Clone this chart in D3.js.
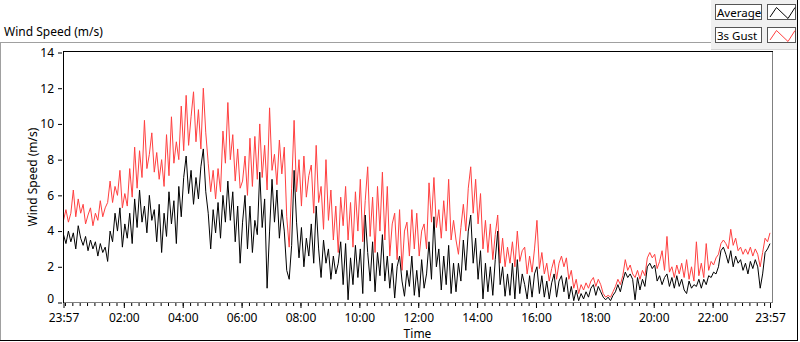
<!DOCTYPE html>
<html>
<head>
<meta charset="utf-8">
<script src="https://d3js.org/d3.v7.min.js"></script>
<style>
  body { margin: 0; background: #fff; }
  svg { display: block; font-family: "Noto Sans", sans-serif; font-size: 12px; }
</style>
</head>
<body>
<svg id="chart" width="800" height="342"></svg>
<script>
// one reading every 5 minutes, from 23:57 to 23:57 the next day
const startTime = new Date(2024, 0, 1, 23, 57);
const endTime = new Date(2024, 0, 2, 23, 57);
const sampleMinutes = 5;

const gustSpeed = [
  4.6,5.2,4.5,5.0,6.3,4.8,5.8,5.0,5.5,4.4,
  4.9,5.3,4.3,5.0,4.6,5.7,4.8,5.3,5.6,6.8,
  5.6,6.5,6.0,7.4,5.3,6.1,5.4,7.5,5.9,8.7,
  6.4,8.5,7.0,10.2,7.5,8.3,9.5,7.3,8.4,6.9,
  8.0,6.5,9.4,7.1,10.4,7.8,9.0,8.0,11.0,8.5,
  11.6,8.8,10.4,11.8,9.0,10.8,8.6,12.0,9.5,7.8,
  6.2,7.4,5.8,7.5,6.2,9.6,7.8,11.2,8.0,9.4,
  6.8,8.6,6.4,
  6.8,8.2,6.0,9.2,6.5,9.3,6.9,
  10.0,7.0,8.8,6.3,10.9,7.4,8.3,6.6,9.1,7.2,
  8.7,4.8,3.1,6.4,10.2,6.2,8.0,5.4,8.2,5.9,
  7.1,7.7,5.0,8.8,5.6,6.5,4.1,8.0,4.6,6.3,
  3.5,5.4,2.8,5.9,4.3,6.5,3.5,5.6,3.1,6.2,
  4.0,6.9,3.4,5.7,7.6,3.7,5.9,2.8,6.5,4.0,
  7.3,3.5,6.5,2.6,4.4,5.0,2.4,5.2,1.8,4.0,
  4.5,2.6,
  5.2,3.0,5.0,2.6,4.0,4.4,3.0,6.7,
  4.5,7.0,4.2,5.2,3.6,5.7,4.0,6.9,3.5,4.6,
  3.5,2.7,4.2,5.5,4.0,6.4,7.6,5.0,6.9,4.4,
  6.1,3.0,4.6,2.8,4.4,2.4,3.8,4.9,2.2,3.6,
  2.0,3.1,2.2,3.4,2.0,4.0,2.3,2.9,3.1,1.6,
  2.6,1.7,3.0,4.6,1.9,2.8,1.6,2.2,1.2,1.9,
  2.4,1.3,2.2,2.6,2.0,2.5,1.3,1.8,0.8,1.3,
  0.5,1.0,0.7,1.1,0.8,1.2,1.4,0.9,1.3,1.0,
  0.5,0.3,0.4,0.3,0.6,0.9,1.3,1.0,1.5,2.4,
  1.8,2.1,1.6,1.4,1.8,1.3,1.8,1.5,2.5,2.8,
  2.5,2.7,1.9,2.3,2.9,1.8,3.7,1.7,2.0,1.4,
  2.1,1.6,2.2,1.4,2.4,1.3,2.0,1.2,3.4,1.5,
  2.2,1.4,3.3,1.8,2.3,2.1,2.5,2.7,3.3,3.5,
  3.3,3.0,4.1,3.2,3.6,2.9,3.1,2.7,3.0,2.7,
  3.1,2.6,3.0,2.7,2.0,2.8,3.6,3.4,3.9
];

const averageSpeed = [
  3.8,3.3,4.0,3.4,3.9,3.0,4.3,3.6,3.2,3.7,
  2.9,3.5,3.0,3.4,2.6,3.3,2.8,3.1,2.3,4.0,
  3.4,5.0,4.0,5.3,3.1,4.4,3.6,5.0,3.3,5.8,
  4.2,6.3,4.5,5.4,3.9,6.0,4.6,5.2,3.4,5.5,
  2.8,5.0,3.7,6.2,4.4,5.7,3.3,6.5,4.8,7.0,
  8.2,6.1,7.4,5.5,7.0,5.8,7.6,8.6,6.2,5.0,
  3.0,5.2,3.9,5.6,3.6,6.0,4.5,6.8,4.6,6.2,
  3.4,5.4,2.2,
  4.5,6.0,3.0,5.4,2.8,4.6,3.8,
  7.3,4.2,5.8,0.8,4.0,6.9,4.5,6.3,3.6,5.2,
  4.0,1.8,1.3,3.2,7.4,4.5,2.5,4.2,2.0,3.6,
  2.6,4.4,2.2,5.4,3.0,1.4,3.5,2.2,3.0,1.3,
  2.6,1.6,2.2,3.4,1.0,3.3,0.15,2.5,1.0,3.2,
  1.4,3.0,0.5,4.9,2.8,1.2,3.4,0.6,2.8,1.5,
  3.8,1.2,2.6,0.8,2.2,0.25,2.0,2.6,1.2,0.35,
  1.8,0.9,
  2.6,0.4,1.8,0.3,2.4,0.8,1.6,3.4,
  1.3,4.8,2.0,3.0,0.7,2.6,1.0,3.2,0.5,2.2,
  0.6,2.2,1.2,3.5,1.8,4.0,4.9,2.2,3.6,1.3,
  2.9,0.2,2.2,0.6,2.0,0.4,2.4,4.0,1.0,2.0,
  0.35,1.6,0.4,2.2,0.2,2.4,0.5,1.6,1.0,0.2,
  1.5,0.3,1.6,2.0,0.5,1.5,0.3,1.2,0.2,1.1,
  1.6,0.3,1.2,1.5,0.6,1.4,0.2,0.9,0.1,0.7,
  0.1,0.5,0.2,0.6,0.3,0.8,1.0,0.4,0.9,0.6,
  0.3,0.15,0.3,0.1,0.4,0.6,1.0,0.6,1.2,1.7,
  1.4,1.6,1.3,0.15,1.4,0.7,1.3,0.9,2.0,2.2,
  1.9,2.1,1.2,1.5,1.0,1.4,1.6,0.9,1.4,0.8,
  1.5,0.9,1.3,0.7,0.5,1.2,0.8,1.0,0.9,1.3,
  0.8,1.3,1.0,1.5,1.4,1.7,1.6,2.0,2.9,3.1,
  2.7,2.2,2.9,2.0,2.6,2.2,2.4,1.8,2.2,1.6,
  2.3,1.9,2.4,2.0,0.8,1.6,2.8,3.0,3.3
];

const yTickValues = [0, 2, 4, 6, 8, 10, 12, 14];
const xTickHours = [2, 4, 6, 8, 10, 12, 14, 16, 18, 20, 22];
const seriesNames = ["Average", "3s Gust"];
const seriesColors = ["#000000", "#ff4040"];

const svg = d3.select("#chart");
const plot = { left: 63, right: 772, top: 52, bottom: 302 };

const toPoints = (values) =>
  values.map((v, i) => ({
    t: d3.timeMinute.offset(startTime, i * sampleMinutes),
    v: v,
  }));

const x = d3.scaleTime().domain([startTime, endTime]).range([plot.left + 0.5, 770]);
const y = d3.scaleLinear().domain([0, 14]).range([plot.bottom + 0.5, plot.top + 0.5]);

// outer panel
svg.append("rect").attr("x", 711).attr("y", 0).attr("width", 86).attr("height", 49).attr("fill", "#f0f0f0");
svg.append("line").attr("x1", 711).attr("x2", 797).attr("y1", 49.5).attr("y2", 49.5).attr("stroke", "#d4d4d4");
svg.append("line").attr("x1", 0).attr("x2", 711).attr("y1", 42.5).attr("y2", 42.5).attr("stroke", "#a0a0a0");
svg.append("line").attr("x1", 0.5).attr("x2", 0.5).attr("y1", 42).attr("y2", 341).attr("stroke", "#a0a0a0");
svg.append("line").attr("x1", 797.5).attr("x2", 797.5).attr("y1", 0).attr("y2", 341).attr("stroke", "#000");
svg.append("line").attr("x1", 0).attr("x2", 798).attr("y1", 340.5).attr("y2", 340.5).attr("stroke", "#000");

svg.append("text").attr("x", 4).attr("y", 36).attr("fill", "#000").text("Wind Speed (m/s)");

// data lines
svg.append("clipPath").attr("id", "plot-clip")
  .append("rect")
  .attr("x", plot.left + 1).attr("y", plot.top)
  .attr("width", plot.right - plot.left - 1).attr("height", plot.bottom - plot.top + 1);

const line = d3.line().x((d) => x(d.t)).y((d) => y(d.v));

const lines = svg.append("g").attr("clip-path", "url(#plot-clip)");
[gustSpeed, averageSpeed].forEach((values, k) => {
  lines.append("path")
    .datum(toPoints(values))
    .attr("fill", "none")
    .attr("stroke", seriesColors[1 - k])
    .attr("stroke-width", 1)
    .attr("d", line);
});

// plot frame
svg.append("line").attr("x1", plot.left).attr("x2", plot.right + 1).attr("y1", 51.5).attr("y2", 51.5).attr("stroke", "#000");
svg.append("line").attr("x1", 63.5).attr("x2", 63.5).attr("y1", 51).attr("y2", 303).attr("stroke", "#000");
svg.append("line").attr("x1", 772.5).attr("x2", 772.5).attr("y1", 52).attr("y2", 303).attr("stroke", "#808080");
svg.append("line").attr("x1", 64).attr("x2", 773).attr("y1", 302.5).attr("y2", 302.5).attr("stroke", "#808080");

// axes
const majorTicks = [startTime, ...xTickHours.map((h) => new Date(2024, 0, 2, h, 0)), endTime];
const minorTicks = d3.timeMinute.every(15).range(startTime, endTime);

svg.append("g")
  .attr("transform", "translate(0,303)")
  .call(d3.axisBottom(x).tickValues(minorTicks).tickSize(3).tickFormat(""))
  .call((g) => g.select(".domain").remove())
  .call((g) => g.selectAll("text").remove());

svg.append("g")
  .attr("class", "x-axis")
  .attr("transform", "translate(0,303)")
  .call(d3.axisBottom(x).tickValues(majorTicks).tickSize(5).tickPadding(5).tickFormat(d3.timeFormat("%H:%M")))
  .call((g) => g.select(".domain").remove());

svg.append("g")
  .attr("class", "y-axis")
  .attr("transform", "translate(62,0)")
  .call(d3.axisLeft(y).tickValues(yTickValues).tickSize(4).tickPadding(4))
  .call((g) => g.select(".domain").remove())
  .call((g) => g.selectAll(".tick text").filter((d) => d === 0).attr("y", -3.5));

svg.selectAll(".tick text").attr("fill", "#000").style("font-size", "12px").style("font-family", "Noto Sans, sans-serif");
svg.selectAll(".tick line").attr("stroke", "#000");

svg.append("text")
  .attr("x", (plot.left + plot.right) / 2)
  .attr("y", 338)
  .attr("text-anchor", "middle")
  .text("Time");

svg.append("text")
  .attr("transform", "rotate(-90)")
  .attr("x", -177)
  .attr("y", 37)
  .attr("text-anchor", "middle")
  .text("Wind Speed (m/s)");

// legend
const legend = svg.append("g").selectAll("g")
  .data(seriesNames)
  .enter()
  .append("g")
  .attr("transform", (d, i) => `translate(715,${4 + i * 23})`);

legend.append("rect")
  .attr("x", 0.5).attr("y", 0.5).attr("width", 46).attr("height", 15)
  .attr("fill", "#fff").attr("stroke", "#555");

legend.append("text")
  .attr("x", 2).attr("y", 12.5)
  .style("font-size", "11.5px")
  .text((d) => d);

legend.append("rect")
  .attr("x", 52.5).attr("y", 0.5).attr("width", 28).attr("height", 15)
  .attr("fill", "#fff").attr("stroke", "#555");

legend.append("path")
  .attr("fill", "none")
  .attr("stroke", (d, i) => seriesColors[i])
  .attr("d", "M55,13L61.5,3.5L73,14.5L80,3.5");
</script>
</body>
</html>
